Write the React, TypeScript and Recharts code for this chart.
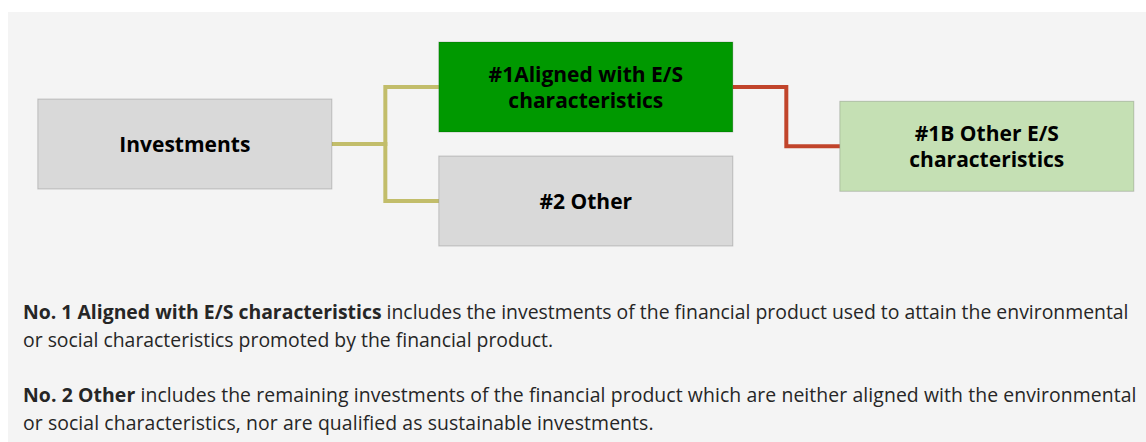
import React from 'react';
import { ComposedChart, XAxis, YAxis, Scatter, Line } from 'recharts';

// tree nodes: level = column, row = vertical slot
const nodeLabels = ['Investments', '#1Aligned with E/S characteristics', '#2 Other', '#1B Other E/S characteristics'];
const nodeLevels = [0, 1, 1, 2];
const nodeRows = [0.5, 0, 1, 0.52];
// parent -> child links
const linkFrom = [0, 0, 1];
const linkTo = [1, 2, 3];

const boxFill = ['#d9d9d9', '#009900', '#d9d9d9', '#c5e0b4'];
const linkColor = ['#c2bd6a', '#c2bd6a', '#c1442b'];

const W = 1138;
const H = 250;
const BOX_W = 294;
const BOX_H = 90;
const LINE_H = 25.6;
const X_DOMAIN: [number, number] = [-0.441, 2.397];
const Y_DOMAIN: [number, number] = [-0.658, 1.535];
const HALF = (BOX_W / 2) * ((X_DOMAIN[1] - X_DOMAIN[0]) / W);

const nodes = nodeLabels.map((label, i) => ({ x: nodeLevels[i], y: nodeRows[i], label, i }));

const links = linkFrom.map((p, k) => {
  const c = linkTo[k];
  const x0 = nodeLevels[p] + HALF;
  const x1 = nodeLevels[c] - HALF;
  const mid = (x0 + x1) / 2;
  return [
    { x: x0, y: nodeRows[p] },
    { x: mid, y: nodeRows[p] },
    { x: mid, y: nodeRows[c] },
    { x: x1, y: nodeRows[c] },
  ];
});

// simple word wrap by character count
function wrap(s: string, max = 18) {
  const out: string[] = [];
  let cur = '';
  s.split(' ').forEach((w) => {
    if (cur && (cur + ' ' + w).length > max) {
      out.push(cur);
      cur = w;
    } else {
      cur = cur ? cur + ' ' + w : w;
    }
  });
  if (cur) out.push(cur);
  return out;
}

const NodeBox = (props: any) => {
  const { cx, cy, payload } = props;
  const lines = wrap(payload.label);
  return (
    <g>
      <rect
        x={cx - BOX_W / 2}
        y={cy - BOX_H / 2}
        width={BOX_W}
        height={BOX_H}
        fill={boxFill[payload.i]}
        stroke="rgba(0,0,0,0.18)"
        strokeWidth={1}
      />
      <text
        textAnchor="middle"
        style={{ fontFamily: '"Open Sans", sans-serif', fontWeight: 700, fontSize: 21, fill: '#000' }}
      >
        {lines.map((ln, j) => (
          <tspan key={j} x={cx} y={cy + 8 + (j - (lines.length - 1) / 2) * LINE_H}>
            {ln}
          </tspan>
        ))}
      </text>
    </g>
  );
};

const para: React.CSSProperties = {
  margin: 0,
  whiteSpace: 'nowrap',
};

export default function App() {
  return (
    <div
      style={{
        position: 'absolute',
        top: 12,
        left: 8,
        width: W,
        height: 430,
        background: '#f4f4f4',
        overflow: 'hidden',
      }}
    >
      <ComposedChart width={W} height={H} margin={{ top: 0, right: 0, bottom: 0, left: 0 }}>
        <XAxis type="number" dataKey="x" domain={X_DOMAIN} hide allowDataOverflow />
        <YAxis type="number" dataKey="y" domain={Y_DOMAIN} reversed hide allowDataOverflow />
        {links.map((pts, k) => (
          <Line
            key={k}
            data={pts}
            dataKey="y"
            type="linear"
            stroke={linkColor[k]}
            strokeWidth={4}
            dot={false}
            activeDot={false}
            isAnimationActive={false}
          />
        ))}
        <Scatter data={nodes} dataKey="y" shape={NodeBox} isAnimationActive={false} />
      </ComposedChart>
      <div
        style={{
          paddingLeft: 15,
          marginTop: 36,
          fontFamily: '"Open Sans", sans-serif',
          fontSize: 19.4,
          lineHeight: '28px',
          color: '#262626',
        }}
      >
        <p style={para}>
          <b>No. 1 Aligned with E/S characteristics</b> includes the investments of the financial product used to attain the environmental
          <br />
          or social characteristics promoted by the financial product.
        </p>
        <p style={{ ...para, marginTop: 27, letterSpacing: 0.09 }}>
          <b>No. 2 Other</b> includes the remaining investments of the financial product which are neither aligned with the environmental
          <br />
          or social characteristics, nor are qualified as sustainable investments.
        </p>
      </div>
    </div>
  );
}
